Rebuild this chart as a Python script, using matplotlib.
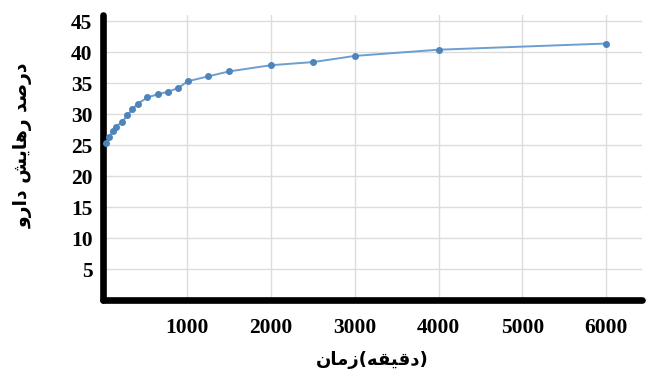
import matplotlib
matplotlib.use("Agg")
import matplotlib.pyplot as plt

# release data
time_min = [35, 70, 110, 150, 220, 285, 345, 410, 525, 645, 765, 890,
            1005, 1250, 1500, 2000, 2500, 3000, 4000, 6000]
release_pct = [25.3, 26.3, 27.3, 28.0, 28.7, 29.8, 30.8, 31.7, 32.7, 33.2,
               33.6, 34.2, 35.3, 36.1, 36.9, 37.9, 38.4, 39.4, 40.4, 41.4]

x_ticks = [1000, 2000, 3000, 4000, 5000, 6000]
y_ticks = [5, 10, 15, 20, 25, 30, 35, 40, 45]

# Persian labels, pre-shaped with presentation forms in visual order
# (matplotlib does no Arabic shaping or bidi)
xlabel_text = "\uFEE5\uFE8E\uFEE3\uFEAF" + "(" + "\uFEEA\uFED8\uFEF4\uFED7\uFEA9" + ")"
ylabel_text = ("\uFEED\uFEAD\uFE8D\uFEA9" + " " + "\uFEB6\uFEF3\uFE8E\uFEEB\uFEAD"
               + " " + "\uFEAA\uFEBB\uFEAD\uFEA9")

W, H = 646, 381
fig = plt.figure(figsize=(W / 100, H / 100), dpi=100)
ax = fig.add_axes([0.1602, 0.2126, 0.8336, 0.748])

ax.plot(time_min, release_pct, color="#6a9fd0", linewidth=1.4,
        marker="o", markersize=4, markerfacecolor="#4f84bb",
        markeredgecolor="#4f84bb", zorder=3)

ax.set_xlim(0, 6426)
ax.set_ylim(0, 46)
ax.set_xticks(x_ticks)
ax.set_yticks(y_ticks)
ax.grid(True, color="#dcdcdc", linewidth=1.0)
ax.set_axisbelow(True)

for side in ["top", "right"]:
    ax.spines[side].set_visible(False)
for side in ["left", "bottom"]:
    ax.spines[side].set_linewidth(4.8)
    ax.spines[side].set_color("black")
    ax.spines[side].set_capstyle("round")

ax.tick_params(length=0)
ax.tick_params(axis="y", pad=8)
ax.tick_params(axis="x", pad=13)
for lab in ax.get_xticklabels() + ax.get_yticklabels():
    lab.set_fontfamily("Liberation Serif")
    lab.set_fontweight("bold")
    lab.set_fontsize(15.5)

# axis titles placed by pixel position in the reference
fig.text(372 / W, 1 - 360 / H, xlabel_text, family=["DejaVu Sans"],
         fontweight="bold", fontsize=13, ha="center", va="center")
fig.text(23 / W, 1 - 145 / H, ylabel_text, family=["DejaVu Sans"],
         fontweight="bold", fontsize=13.5, ha="center", va="center",
         rotation=90)

fig.savefig("out.png", dpi=100)
